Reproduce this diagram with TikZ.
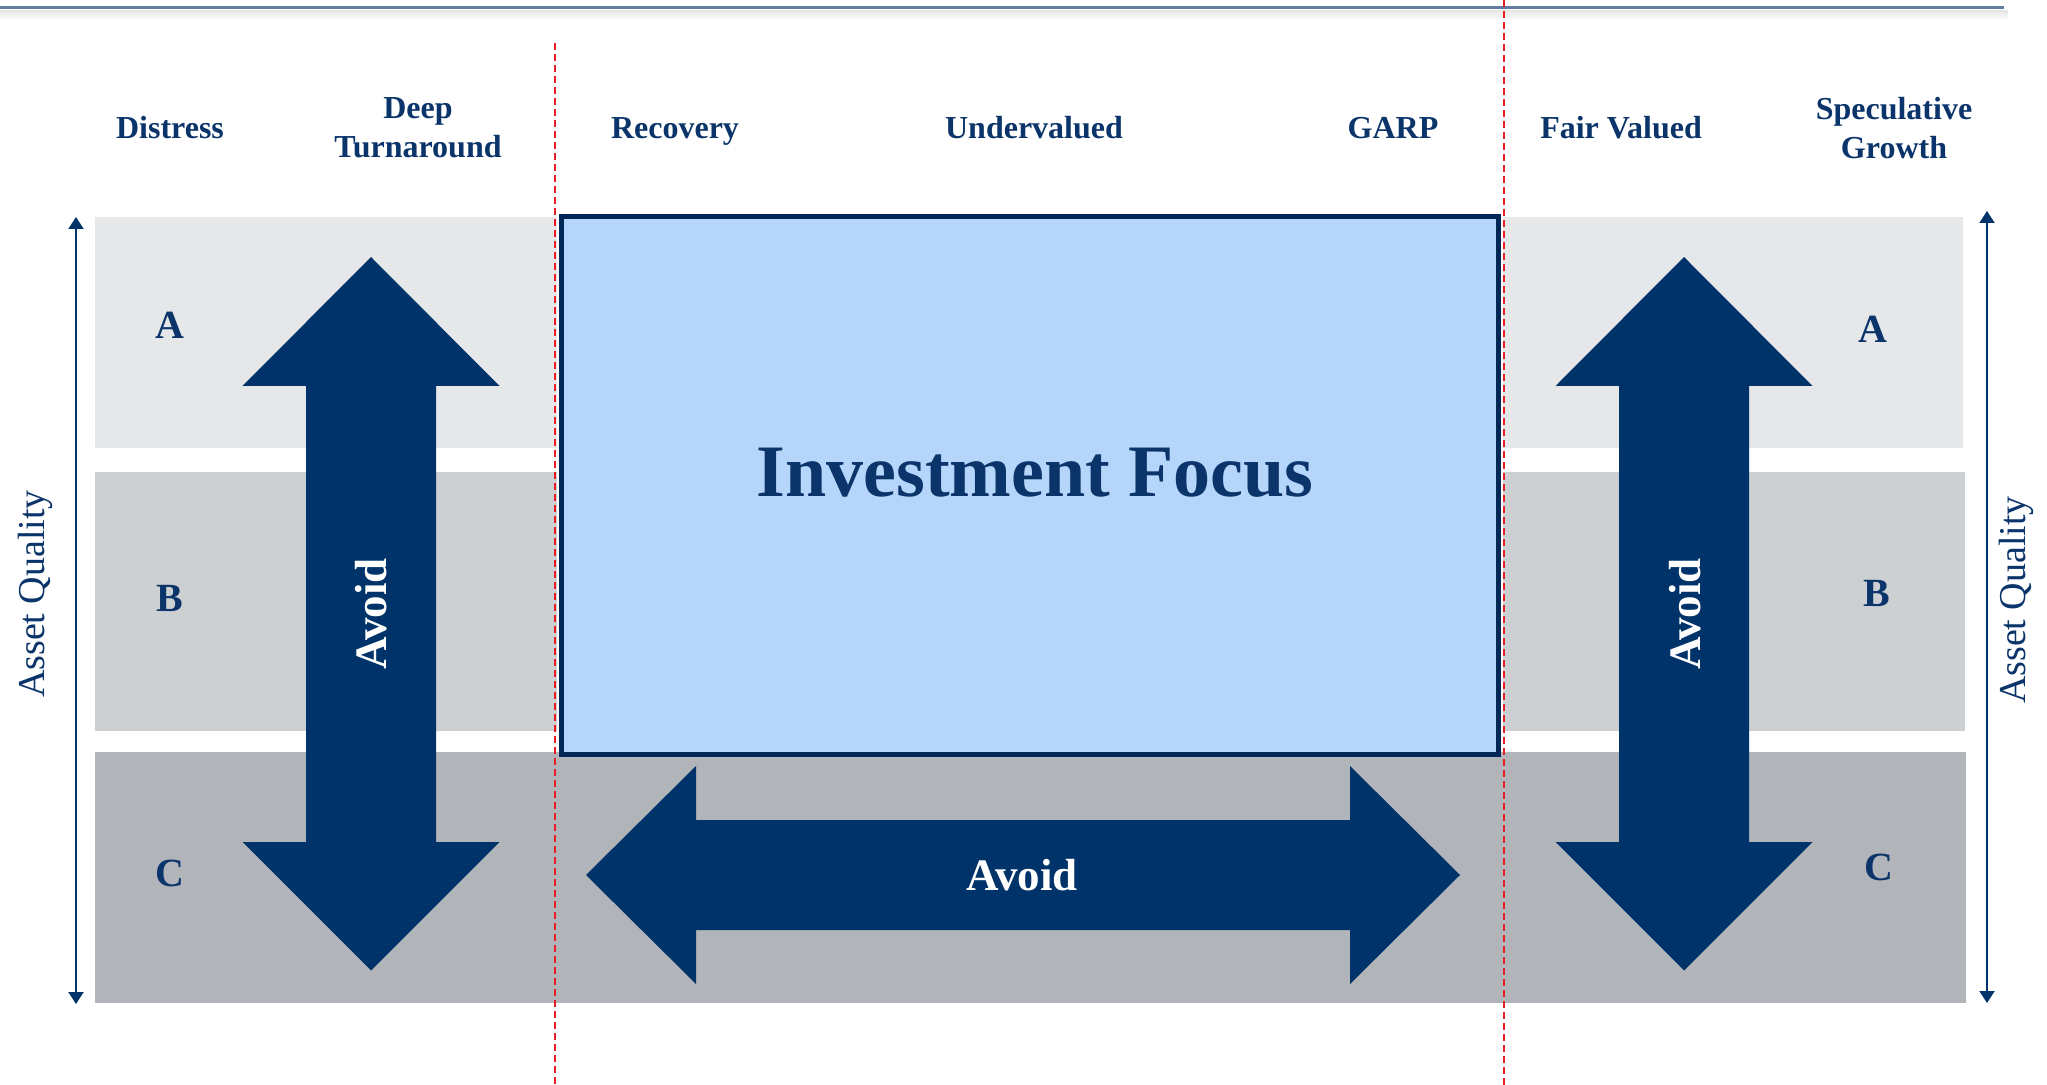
\documentclass[tikz,border=0pt]{standalone}
\usepackage{fontspec}
\setmainfont{Liberation Serif}
\usetikzlibrary{arrows.meta}
\definecolor{navy}{RGB}{0,51,105}
\definecolor{inknavy}{RGB}{10,52,106}
\definecolor{focusblue}{RGB}{181,214,250}
\definecolor{focusedge}{RGB}{0,40,86}
\definecolor{bandA}{RGB}{230,231,232}
\definecolor{bandB}{RGB}{205,208,211}
\definecolor{bandC}{RGB}{177,181,185}
\definecolor{rulered}{RGB}{232,30,36}
\definecolor{rulesteel}{RGB}{96,124,160}

\begin{document}
\begin{tikzpicture}[x=0.5pt,y=-0.5pt,
  header/.style={font=\bfseries\fontsize{16}{19.5}\selectfont, text=inknavy, align=center, inner sep=0pt},
  header1/.style={header, anchor=base},
  grade/.style={font=\bfseries\fontsize{20}{23}\selectfont, text=inknavy, inner sep=0pt},
  axislabel/.style={font=\fontsize{19}{22}\selectfont, text=inknavy, rotate=90, inner sep=0pt},
  avoidlabel/.style={font=\bfseries\fontsize{22.5}{26}\selectfont, text=white, inner sep=0pt},
  focuslabelstyle/.style={font=\bfseries\fontsize{37}{44}\selectfont, text=inknavy, inner sep=0pt},
  axis/.style={draw=navy, line width=1pt, {Triangle[width=7.5pt,length=6pt]}-{Triangle[width=7.5pt,length=6pt]}},
  split/.style={draw=rulered, line width=1pt, dash pattern=on 3.5pt off 2pt},
  bigarrow/.style={fill=navy}
]
\useasboundingbox (0,0) rectangle (2047,1085);
\fill[white] (0,0) rectangle (2047,1085);

% top rule with its soft shadow
\foreach \yy/\op in {10/0.10,12/0.08,14/0.06,16/0.04,18/0.02}
  \fill[black, opacity=\op] (0,\yy) rectangle (2008,\yy+2);
\draw[rulesteel, line width=1.5pt] (0,8) -- (2004,8);

% quality bands
\fill[bandA] (95,217) rectangle (557,448);
\fill[bandA] (1503,217) rectangle (1963,448);
\fill[bandB] (95,472) rectangle (557,731);
\fill[bandB] (1503,472) rectangle (1965,731);
\fill[bandC] (95,752) rectangle (1966,1003);

% focus box
\draw[draw=focusedge, fill=focusblue, line width=2.5pt] (561.5,216.5) rectangle (1498.5,754.5);
\node[focuslabelstyle] (focuslabel) at (1035,473) {Investment Focus};

% avoid arrows
\fill[bigarrow] (371,257) -- (499.5,386) -- (436,386) -- (436,842) -- (499.5,842) -- (371,970.5)
  -- (242.5,842) -- (306,842) -- (306,386) -- (242.5,386) -- cycle;
\fill[bigarrow] (1684,257) -- (1812.5,386) -- (1749,386) -- (1749,842) -- (1812.5,842) -- (1684,970.5)
  -- (1555.5,842) -- (1619,842) -- (1619,386) -- (1555.5,386) -- cycle;
\fill[bigarrow] (586,875) -- (696,766) -- (696,820) -- (1350,820) -- (1350,766) -- (1460,875)
  -- (1350,984) -- (1350,930) -- (696,930) -- (696,984) -- cycle;
\node[avoidlabel, rotate=90] (avoidL) at (371,614) {Avoid};
\node[avoidlabel, rotate=90] (avoidR) at (1685,614) {Avoid};
\node[avoidlabel] (avoidC) at (1022,875) {Avoid};

% dividing lines
\coordinate (splitLtop) at (555,43);
\coordinate (splitLbot) at (555,1085);
\coordinate (splitRtop) at (1504,0);
\coordinate (splitRbot) at (1504,1085);
\draw[split] (splitLtop) -- (splitLbot);
\draw[split] (splitRtop) -- (splitRbot);

% quality axes
\coordinate (axLtop) at (76,217);
\coordinate (axLbot) at (76,1004);
\coordinate (axRtop) at (1987,211);
\coordinate (axRbot) at (1987,1003);
\draw[axis] (axLtop) -- (axLbot);
\draw[axis] (axRtop) -- (axRbot);
\node[axislabel] (aqL) at (35,594) {Asset Quality};
\node[axislabel] (aqR) at (2016,600) {Asset Quality};

% column headers
\node[header1] (hDistress) at (170,139) {Distress};
\node[header] (hDeep) at (418,128) {Deep\\Turnaround};
\node[header1] (hRecovery) at (675,139) {Recovery};
\node[header1] (hUnder) at (1034,139) {Undervalued};
\node[header1] (hGarp) at (1393,139) {GARP};
\node[header1] (hFair) at (1621,139) {Fair Valued};
\node[header] (hSpec) at (1894,128) {Speculative\\Growth};

% grades
\node[grade] (gAL) at (170,325) {A};
\node[grade] (gBL) at (170,598) {B};
\node[grade] (gCL) at (170,873) {C};
\node[grade] (gAR) at (1873,329) {A};
\node[grade] (gBR) at (1877,593) {B};
\node[grade] (gCR) at (1879,867) {C};
\end{tikzpicture}
\end{document}
